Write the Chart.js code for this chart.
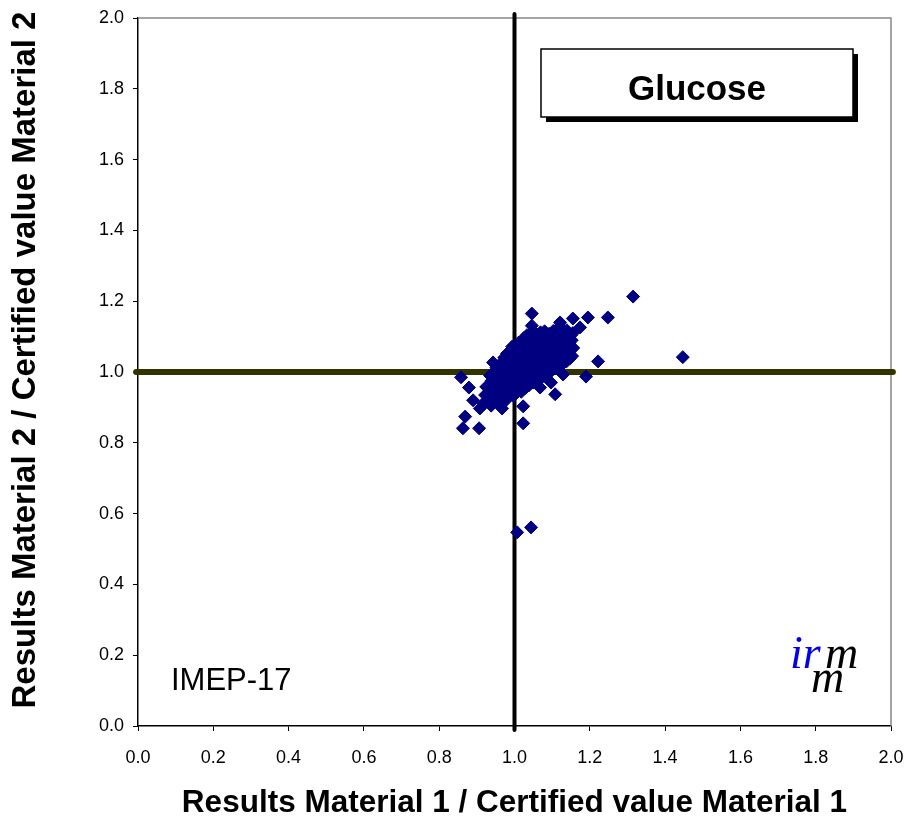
<!DOCTYPE html>
<html>
<head>
<meta charset="utf-8">
<title>Glucose IMEP-17</title>
<script src="https://cdn.jsdelivr.net/npm/chart.js@4.4.1/dist/chart.umd.min.js"></script>
<style>
  body { margin: 0; background: #fff; }
  #wrap { width: 908px; height: 821px; position: relative; }
</style>
</head>
<body>
<div id="wrap"><canvas id="mychart"></canvas></div>
<script>
// ratio of result to certified value, [material 1, material 2]
const clusterPoints = [
  [0.918,0.912],[0.922,0.935],[0.925,0.958],
  [0.938,0.905],[0.941,0.928],[0.944,0.951],[0.939,0.975],[0.946,0.998],
  [0.958,0.912],[0.962,0.934],[0.957,0.957],[0.963,0.981],[0.960,1.004],[0.965,1.026],
  [0.978,0.921],[0.982,0.944],[0.976,0.968],[0.984,0.991],[0.979,1.013],[0.983,1.036],[0.980,1.052],
  [0.997,0.932],[1.002,0.955],[0.999,0.978],[1.004,1.001],[0.996,1.024],[1.003,1.046],[1.000,1.068],
  [1.018,0.944],[1.022,0.967],[1.017,0.990],[1.024,1.012],[1.019,1.035],[1.023,1.057],[1.020,1.079],[1.025,1.096],
  [1.038,0.962],[1.042,0.985],[1.037,1.008],[1.044,1.030],[1.039,1.053],[1.043,1.075],[1.040,1.097],[1.045,1.110],
  [1.058,0.975],[1.062,0.998],[1.057,1.021],[1.064,1.043],[1.059,1.066],[1.063,1.088],[1.060,1.106],
  [1.078,0.988],[1.082,1.011],[1.077,1.034],[1.084,1.056],[1.079,1.079],[1.083,1.101],[1.080,1.115],
  [1.098,1.003],[1.102,1.026],[1.097,1.049],[1.104,1.071],[1.099,1.093],[1.103,1.116],
  [1.118,1.018],[1.122,1.041],[1.117,1.064],[1.124,1.086],[1.119,1.108],[1.123,1.125],
  [1.138,1.030],[1.142,1.053],[1.137,1.076],[1.144,1.098],[1.139,1.118],
  [1.153,1.045],[1.156,1.068],[1.152,1.090],[1.155,1.110]
];

// more labs packed inside the main group
const clusterFill = [
  [0.930,0.921],[0.933,0.946],[0.951,0.918],[0.953,0.941],[0.950,0.966],[0.955,0.989],[0.952,1.012],
  [0.970,0.926],[0.972,0.950],[0.969,0.973],[0.974,0.996],[0.971,1.019],[0.973,1.041],
  [0.989,0.938],[0.991,0.962],[0.988,0.985],[0.993,1.008],[0.990,1.030],[0.992,1.056],[0.994,1.072],
  [1.009,0.948],[1.011,0.972],[1.008,0.995],[1.013,1.018],[1.010,1.040],[1.012,1.062],[1.011,1.083],
  [1.029,0.955],[1.031,0.979],[1.028,1.001],[1.033,1.024],[1.030,1.046],[1.032,1.068],[1.029,1.090],[1.033,1.104],
  [1.049,0.970],[1.051,0.992],[1.048,1.015],[1.053,1.037],[1.050,1.060],[1.052,1.082],[1.049,1.101],
  [1.069,0.983],[1.071,1.005],[1.068,1.028],[1.073,1.050],[1.070,1.072],[1.072,1.094],[1.069,1.112],
  [1.089,0.996],[1.091,1.019],[1.088,1.041],[1.093,1.063],[1.090,1.086],[1.092,1.108],
  [1.109,1.010],[1.111,1.034],[1.108,1.056],[1.113,1.078],[1.110,1.100],[1.112,1.120],
  [1.129,1.024],[1.131,1.047],[1.128,1.070],[1.133,1.092],[1.130,1.113],
  [1.147,1.038],[1.149,1.061],[1.146,1.083],[1.150,1.104]
];

const outlierPoints = [
  [1.315,1.213],[1.447,1.042],[1.248,1.154],[1.195,1.154],[1.222,1.030],[1.190,0.987],
  [1.129,0.993],[1.108,0.937],[1.097,0.970],[1.046,1.165],[1.046,1.131],[0.858,0.985],
  [0.879,0.956],[0.869,0.874],[0.863,0.841],[0.906,0.841],[1.023,0.855],[1.023,0.903],
  [0.967,0.897],[0.908,0.897],[0.890,0.920],[1.174,1.126],[1.155,1.151],[1.121,1.140],
  [0.943,1.027],[1.068,0.956],[1.007,0.547],[1.044,0.561],[0.935,0.990]
];

const targetValue = 1.0;
const axisMin = 0;
const axisMax = 2;
const tickStep = 0.2;

const analyte = "Glucose";
const study = "IMEP-17";
const xTitle = "Results Material 1 / Certified value Material 1";
const yTitle = "Results Material 2 / Certified value Material 2";

const allPoints = clusterPoints.concat(clusterFill, outlierPoints).map(p => ({ x: p[0], y: p[1] }));

// frame, titles, text box and logo
const decor = {
  id: "decor",
  beforeDatasetsDraw(chart) {
    const ctx = chart.ctx;
    const a = chart.chartArea;
    ctx.save();
    ctx.strokeStyle = "#888";
    ctx.lineWidth = 1.5;
    ctx.beginPath();
    ctx.moveTo(a.left, a.top);
    ctx.lineTo(a.right, a.top);
    ctx.lineTo(a.right, a.bottom);
    ctx.stroke();
    ctx.restore();
  },
  afterDraw(chart) {
    const ctx = chart.ctx;
    const a = chart.chartArea;
    ctx.save();
    ctx.fillStyle = "#000";
    ctx.textAlign = "center";
    ctx.textBaseline = "middle";
    ctx.font = "bold 31.5px 'Liberation Sans', Arial, sans-serif";
    ctx.fillText(xTitle, (a.left + a.right) / 2, 803);
    ctx.save();
    ctx.translate(26, 360);
    ctx.rotate(-Math.PI / 2);
    ctx.font = "bold 33px 'Liberation Sans', Arial, sans-serif";
    ctx.fillText(yTitle, 0, 0);
    ctx.restore();

    // text box with shadow
    ctx.fillStyle = "#000";
    ctx.fillRect(546, 54, 312, 68);
    ctx.fillStyle = "#fff";
    ctx.fillRect(541, 49, 312, 68);
    ctx.strokeStyle = "#000";
    ctx.lineWidth = 1.5;
    ctx.strokeRect(541, 49, 312, 68);
    ctx.fillStyle = "#000";
    ctx.font = "bold 35px 'Liberation Sans', Arial, sans-serif";
    ctx.fillText(analyte, 697, 90);

    ctx.font = "31px 'Liberation Sans', Arial, sans-serif";
    ctx.textAlign = "left";
    ctx.fillText(study, 171, 681);

    // irmm logo
    ctx.textBaseline = "alphabetic";
    ctx.font = "italic 46px 'Liberation Serif', 'DejaVu Serif', serif";
    ctx.fillStyle = "#0000ee";
    ctx.fillText("ir", 790, 668);
    ctx.fillStyle = "#000";
    ctx.fillText("m", 825, 668);
    ctx.fillText("m", 811, 692);
    ctx.restore();
  }
};

const ctx = document.getElementById("mychart").getContext("2d");

const config = {
  type: "scatter",
  data: {
    datasets: [
      {
        label: "Laboratories",
        data: allPoints,
        pointStyle: "rectRot",
        pointRadius: 6.5,
        backgroundColor: "#000080",
        borderColor: "#000080",
        borderWidth: 1,
        order: 0
      },
      {
        label: "Material 2 target",
        data: [{ x: axisMin - 0.005, y: targetValue }, { x: axisMax + 0.005, y: targetValue }],
        showLine: true,
        borderColor: "#333300",
        borderWidth: 6,
        borderCapStyle: "round",
        pointRadius: 0,
        clip: false,
        order: 1
      },
      {
        label: "Material 1 target",
        data: [{ x: targetValue, y: axisMin - 0.011 }, { x: targetValue, y: axisMax + 0.011 }],
        showLine: true,
        borderColor: "#000",
        borderWidth: 4,
        borderCapStyle: "round",
        pointRadius: 0,
        clip: false,
        order: 2
      }
    ]
  },
  options: {
    responsive: true,
    maintainAspectRatio: false,
    animation: false,
    events: [],
    layout: { padding: { top: 18, right: 17, left: 0, bottom: 0 } },
    plugins: { legend: { display: false }, tooltip: { enabled: false } },
    scales: {
      x: {
        type: "linear",
        min: axisMin,
        max: axisMax,
        afterFit: s => { s.height = 95; s.paddingLeft = 0; s.paddingRight = 0; },
        border: { color: "#000", width: 1.5 },
        grid: { drawOnChartArea: false, drawTicks: true, tickLength: 5, color: "#000", tickWidth: 1 },
        ticks: {
          stepSize: tickStep,
          padding: 16,
          color: "#000",
          maxRotation: 0,
          font: { family: "'Liberation Sans', Arial, sans-serif", size: 18 },
          callback: v => v.toFixed(1)
        }
      },
      y: {
        type: "linear",
        min: axisMin,
        max: axisMax,
        afterFit: s => { s.width = 138; s.paddingTop = 0; s.paddingBottom = 0; },
        border: { color: "#000", width: 1.5 },
        grid: { drawOnChartArea: false, drawTicks: true, tickLength: 5, color: "#000", tickWidth: 1 },
        ticks: {
          stepSize: tickStep,
          padding: 9,
          color: "#000",
          font: { family: "'Liberation Sans', Arial, sans-serif", size: 18 },
          callback: v => v.toFixed(1)
        }
      }
    }
  },
  plugins: [decor]
};

const mychart = new Chart(ctx, config);
</script>
</body>
</html>
